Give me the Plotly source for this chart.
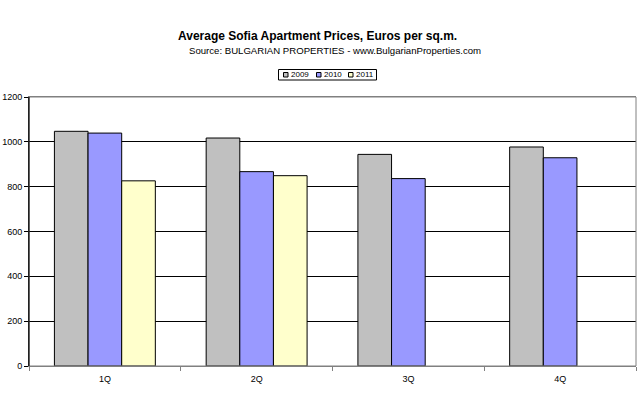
import plotly.graph_objects as go

quarters = ["1Q", "2Q", "3Q", "4Q"]
years = ["2009", "2010", "2011"]
prices_2009 = [1047, 1017, 944, 977]
prices_2010 = [1039, 867, 836, 929]
prices_2011 = [826, 849, None, None]
colors = ["#C0C0C0", "#9999FF", "#FFFFCC"]
yticks = [0, 200, 400, 600, 800, 1000, 1200]

FONT = "Liberation Sans, Arial"
L, R, T, B = 29, 4, 97, 27
W, H = 640, 393
PW, PH = W - L - R, H - T - B

def px_x(x):
    return (x - L) / PW

def px_y(y):
    return (H - B - y) / PH

fig = go.Figure()
for name, vals, col in zip(years, [prices_2009, prices_2010, prices_2011], colors):
    fig.add_trace(go.Bar(
        x=quarters, y=vals, name=name,
        marker=dict(color=col, line=dict(color="#000000", width=1)),
        hoverinfo="skip",
    ))

fig.update_layout(
    width=W, height=H,
    paper_bgcolor="white", plot_bgcolor="white",
    font=dict(family=FONT, size=9, color="#000000"),
    margin=dict(l=L, r=R, t=T, b=B),
    barmode="group", bargap=0.335, bargroupgap=0,
    showlegend=False,
)
fig.update_xaxes(
    showline=True, linecolor="#808080", linewidth=1, mirror=True,
    ticks="outside", ticklen=4, tickcolor="#808080",
    tickson="boundaries", showgrid=False, automargin=False,
    ticklabelstandoff=4,
    tickfont=dict(size=9),
)
fig.update_yaxes(
    range=[0, 1200], tickvals=yticks, ticktext=[str(v) for v in yticks],
    showline=True, linecolor="#000000", linewidth=1,
    ticks="outside", ticklen=4, tickcolor="#000000",
    showgrid=True, gridcolor="#000000", gridwidth=1,
    zeroline=False, automargin=False, tickfont=dict(size=9),
)
# gray plot-area border
fig.add_shape(type="rect", xref="paper", yref="paper", x0=0, x1=1, y0=0, y1=1,
              line=dict(color="#808080", width=1), layer="above")
fig.add_shape(type="line", xref="paper", yref="paper", x0=0, x1=0, y0=0, y1=1,
              line=dict(color="#000000", width=1), layer="above")

# titles
fig.add_annotation(text="<b>Average Sofia Apartment Prices, Euros per sq.m.</b>",
                   xref="paper", yref="paper", x=px_x(317), y=px_y(36),
                   xanchor="center", yanchor="middle", showarrow=False,
                   font=dict(family=FONT, size=12, color="#000000"))
fig.add_annotation(text="Source: BULGARIAN PROPERTIES - www.BulgarianProperties.com",
                   xref="paper", yref="paper", x=px_x(334.5), y=px_y(51),
                   xanchor="center", yanchor="middle", showarrow=False,
                   font=dict(family=FONT, size=9.6, color="#000000"))

# compact legend box
fig.add_shape(type="rect", xref="paper", yref="paper",
              x0=px_x(278.5), x1=px_x(376.5), y0=px_y(80), y1=px_y(69.5),
              line=dict(color="#000000", width=1), fillcolor="white")
sq_x = [283.5, 316.5, 348.5]
for name, col, sx in zip(years, colors, sq_x):
    fig.add_shape(type="rect", xref="paper", yref="paper",
                  x0=px_x(sx), x1=px_x(sx + 4.5), y0=px_y(77), y1=px_y(72.5),
                  line=dict(color="#000000", width=1), fillcolor=col)
    fig.add_annotation(text=name, xref="paper", yref="paper",
                       x=px_x(sx + 5), y=px_y(74.8), xanchor="left", yanchor="middle",
                       showarrow=False, font=dict(family=FONT, size=8, color="#000000"))

fig.write_html("out.html", config={"displayModeBar": False},
               post_script="document.body.style.margin='0';document.body.style.padding='0';")
